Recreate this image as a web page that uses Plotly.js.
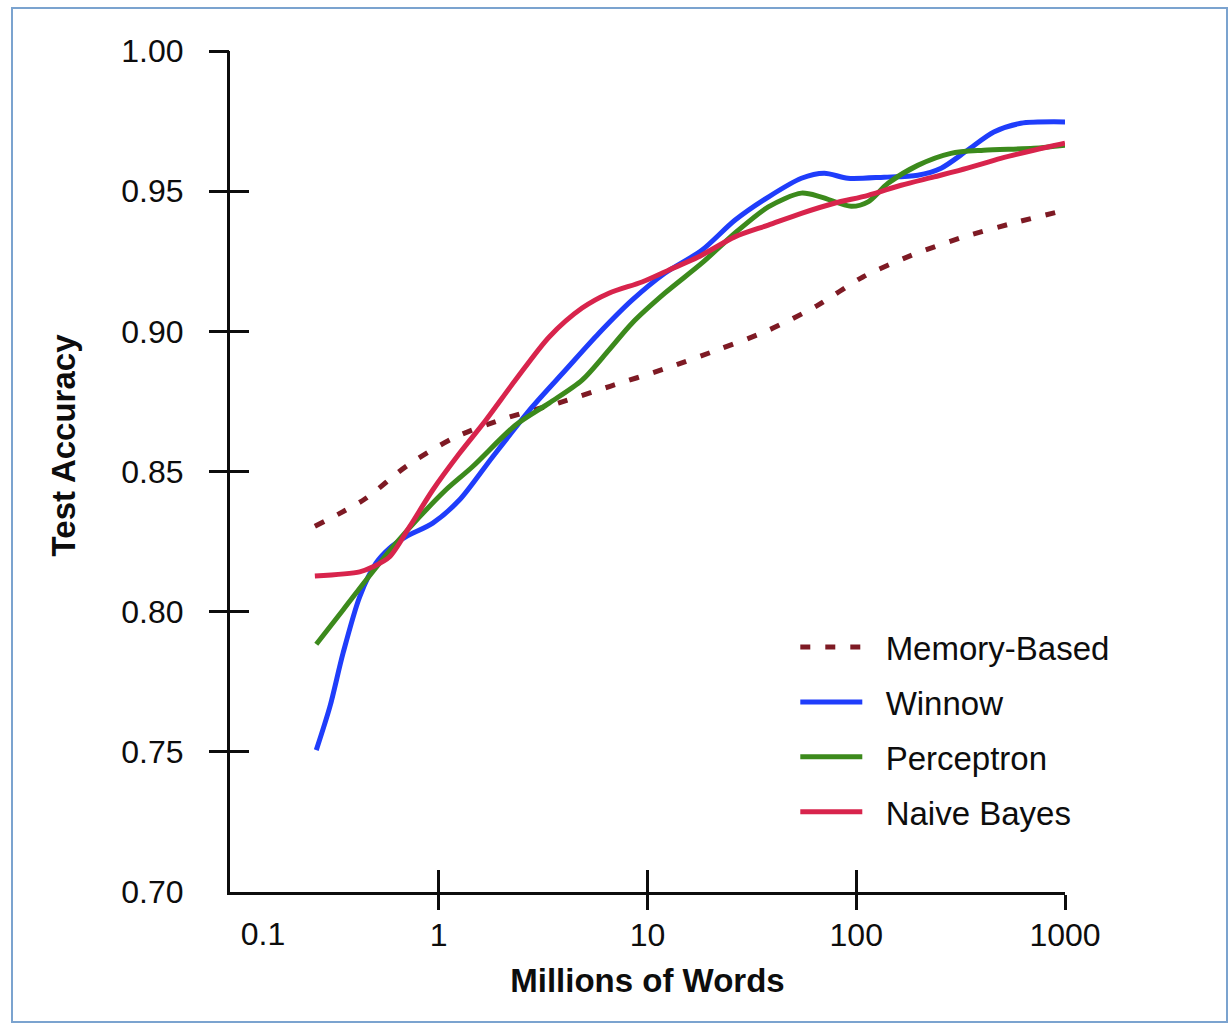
<!DOCTYPE html>
<html>
<head>
<meta charset="utf-8">
<script src="https://cdn.plot.ly/plotly-3.0.1.min.js"></script>
<style>
  html, body { margin: 0; padding: 0; background: #ffffff; }
  #chart { width: 1232px; height: 1029px; }
  #frame { position: absolute; left: 11px; top: 7px; width: 1213px; height: 1012px;
           border: 2px solid #7ba3cf; pointer-events: none; }
</style>
</head>
<body>
<div id="chart"></div>
<div id="frame"></div>
<script>
// ---- Data (millions of words vs. test accuracy) ----
const memoryX = [0.255, 0.439, 0.703, 1.189, 2.09, 3.77, 6.62, 11.95, 21.5, 37.2, 64.4, 107.6, 185, 328, 591, 1000];
const memoryY = [0.8305, 0.8400, 0.8520, 0.8621, 0.8690, 0.8745, 0.8804, 0.8865, 0.8933, 0.9001, 0.9090, 0.9194, 0.9272, 0.9337, 0.9390, 0.9432];

const winnowX = [0.259, 0.301, 0.348, 0.418, 0.500, 0.582, 0.695, 0.936, 1.255, 1.81, 2.81, 4.04, 5.85, 8.43, 12.1, 18.2, 26.2, 37.9, 54.6, 70.3, 91.2, 136, 197, 255, 341, 456, 614, 1000];
const winnowY = [0.7506, 0.7661, 0.7852, 0.8053, 0.8173, 0.8227, 0.8267, 0.8316, 0.8398, 0.8552, 0.8731, 0.8861, 0.8993, 0.9111, 0.9207, 0.9289, 0.9396, 0.9479, 0.9546, 0.9564, 0.9546, 0.9550, 0.9557, 0.9582, 0.9646, 0.9711, 0.9742, 0.9747];

const perceptronX = [0.259, 0.348, 0.449, 0.603, 0.809, 1.080, 1.45, 2.33, 3.38, 4.86, 6.53, 8.43, 12.1, 18.2, 26.2, 37.9, 54.6, 68.1, 94.6, 114, 142, 197, 284, 408, 708, 1000];
const perceptronY = [0.7884, 0.8006, 0.8113, 0.8231, 0.8338, 0.8434, 0.8517, 0.8665, 0.8744, 0.8826, 0.8933, 0.9029, 0.9136, 0.9243, 0.9350, 0.9444, 0.9493, 0.9479, 0.9446, 0.9462, 0.9528, 0.9592, 0.9635, 0.9646, 0.9653, 0.9664];

const bayesX = [0.255, 0.418, 0.484, 0.582, 0.725, 0.936, 1.255, 1.68, 2.33, 3.38, 4.86, 6.53, 9.41, 12.6, 17.5, 26.2, 37.9, 54.6, 78.5, 114, 164, 236, 341, 492, 708, 1000];
const bayesY = [0.8127, 0.8142, 0.8160, 0.8196, 0.8303, 0.8434, 0.8564, 0.8683, 0.8826, 0.8980, 0.9083, 0.9136, 0.9176, 0.9218, 0.9265, 0.9337, 0.9379, 0.9421, 0.9457, 0.9485, 0.9521, 0.9551, 0.9582, 0.9617, 0.9646, 0.9671];

const seriesNames = ["Memory-Based", "Winnow", "Perceptron", "Naive Bayes"];
const xTickVals = [1, 10, 100, 1000];
const xTickText = ["1", "10", "100", "1000"];
const xFirstVal = [0.1];
const xFirstText = ["0.1"];
const yLabelVals = [0.70, 0.75, 0.80, 0.85, 0.90, 0.95, 1.00];
const yLabelText = ["0.70", "0.75", "0.80", "0.85", "0.90", "0.95", "1.00"];
const yTickVals = [0.75, 0.80, 0.85, 0.90, 0.95, 1.00];

const FONT = "'Liberation Sans', Arial, Helvetica, sans-serif";
const INK = "#0d0d0d";
const GAP = "\u00a0\u00a0";

function line(name, x, y, color, dash, grp) {
  return {
    type: "scatter", mode: "lines", name: GAP + name, x: x, y: y,
    legendgroup: grp,
    line: { color: color, width: 5, shape: "spline", smoothing: 0.8, dash: dash },
    hoverinfo: "skip"
  };
}
function holder(xa, ya) {
  return { type: "scatter", mode: "lines", x: [], y: [], xaxis: xa, yaxis: ya, showlegend: false, hoverinfo: "skip" };
}

const traces = [
  line(seriesNames[0], memoryX, memoryY, "#7e1a24", "10px,15px", "g1"),
  line(seriesNames[1], winnowX, winnowY, "#1f3dfb", "solid", "g2"),
  line(seriesNames[2], perceptronX, perceptronY, "#3c8a1c", "solid", "g3"),
  line(seriesNames[3], bayesX, bayesY, "#d8244c", "solid", "g4"),
  holder("x2", "y"), holder("x3", "y"), holder("x", "y2"), holder("x", "y3")
];

const layout = {
  width: 1232, height: 1029,
  paper_bgcolor: "#ffffff", plot_bgcolor: "rgba(0,0,0,0)",
  margin: { l: 230, r: 167, t: 51, b: 137 },
  font: { family: FONT, size: 32, color: INK },
  showlegend: true,
  legend: {
    x: 0.677, y: 0.3245, xanchor: "left", yanchor: "top",
    traceorder: "grouped", tracegroupgap: 9,
    itemwidth: 62,
    font: { family: FONT, size: 33, color: INK },
    bgcolor: "rgba(0,0,0,0)"
  },
  xaxis: {
    type: "log", range: [-1, 3], showgrid: false, zeroline: false,
    showline: true, linecolor: INK, linewidth: 3,
    tickvals: xTickVals, ticktext: xTickText,
    ticks: "outside", ticklen: 15, tickwidth: 3, tickcolor: INK,
    ticklabelstandoff: -2,
    tickfont: { family: FONT, size: 32, color: INK },
    title: { text: "<b>Millions of Words</b>", font: { family: FONT, size: 33, color: INK }, standoff: 17 },
    automargin: false, fixedrange: true
  },
  xaxis2: {
    type: "log", range: [-1, 3], overlaying: "x", anchor: "y", side: "bottom",
    showgrid: false, zeroline: false, showline: false,
    tickvals: xTickVals, ticks: "inside", ticklen: 22, tickwidth: 3, tickcolor: INK,
    showticklabels: false, automargin: false, fixedrange: true
  },
  xaxis3: {
    type: "log", range: [-1, 3], overlaying: "x", anchor: "y", side: "bottom",
    showgrid: false, zeroline: false, showline: false,
    tickvals: xFirstVal, ticktext: xFirstText, ticks: "",
    ticklabelstandoff: 20, ticklabelshift: 33,
    tickfont: { family: FONT, size: 32, color: INK },
    automargin: false, fixedrange: true
  },
  yaxis: {
    range: [0.70, 1.00], showgrid: false, zeroline: false,
    showline: true, linecolor: INK, linewidth: 3,
    tickvals: yLabelVals, ticktext: yLabelText,
    ticks: "", ticklabelstandoff: 37,
    tickfont: { family: FONT, size: 32, color: INK },
    automargin: false, fixedrange: true
  },
  yaxis2: {
    range: [0.70, 1.00], overlaying: "y", anchor: "x", side: "left",
    showgrid: false, zeroline: false, showline: false,
    tickvals: yTickVals, ticks: "outside", ticklen: 20, tickwidth: 3, tickcolor: INK,
    showticklabels: false, automargin: false, fixedrange: true
  },
  yaxis3: {
    range: [0.70, 1.00], overlaying: "y", anchor: "x", side: "left",
    showgrid: false, zeroline: false, showline: false,
    tickvals: yTickVals, ticks: "inside", ticklen: 19, tickwidth: 3, tickcolor: INK,
    showticklabels: false, automargin: false, fixedrange: true
  },
  annotations: [{
    text: "<b>Test Accuracy</b>", textangle: -90, showarrow: false,
    xref: "paper", yref: "paper", x: -0.2, y: 0.531, xanchor: "center", yanchor: "middle",
    font: { family: FONT, size: 33, color: INK }
  }]
};

Plotly.newPlot("chart", traces, layout, { staticPlot: true, displayModeBar: false });
</script>
</body>
</html>
